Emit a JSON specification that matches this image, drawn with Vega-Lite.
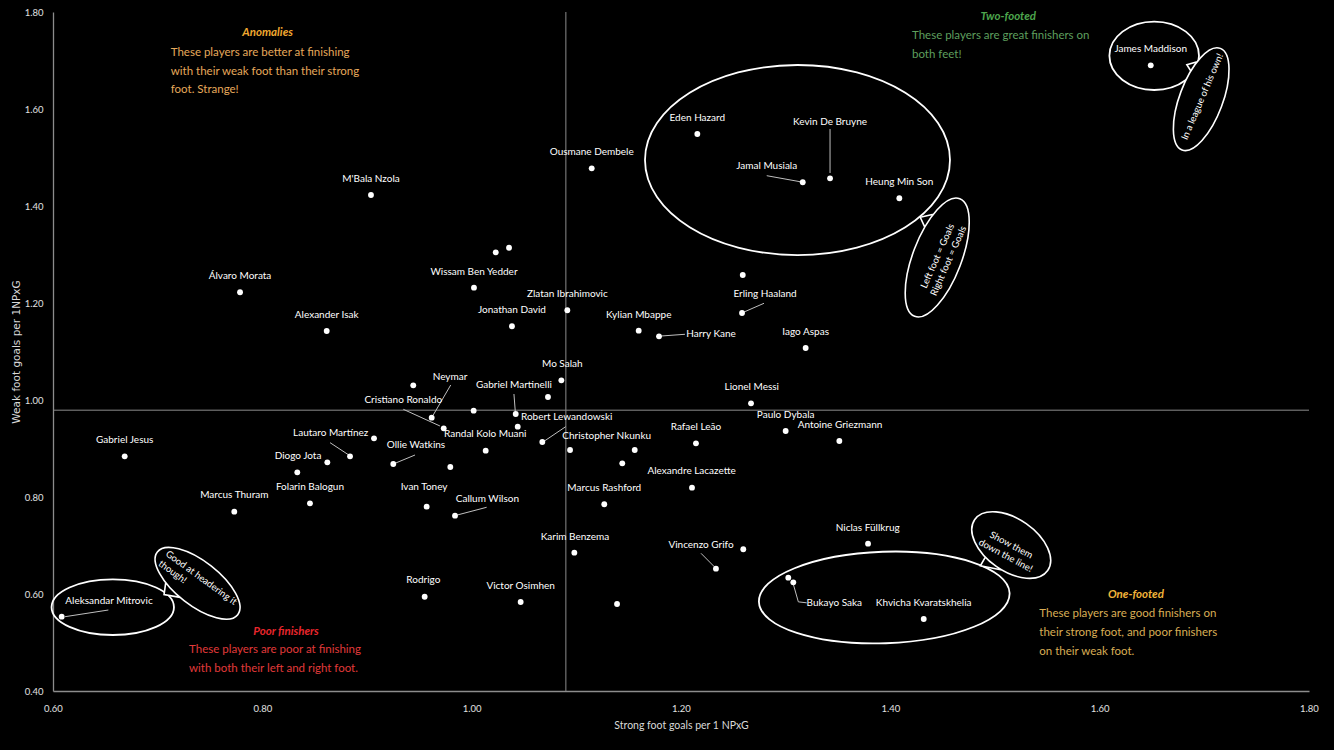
{
  "$schema": "https://vega.github.io/schema/vega-lite/v6.json",
  "width": 1256,
  "height": 679,
  "autosize": {"type": "none"},
  "padding": {"left": 53, "top": 12, "right": 25, "bottom": 59},
  "background": "#000000",
  "config": {"view": {"stroke": null}},
  "datasets": {
    "points": [
      {"player": "M'Bala Nzola", "x": 0.9038, "y": 1.4227},
      {"player": "Ousmane Dembele", "x": 1.1147, "y": 1.4777},
      {"player": "Eden Hazard", "x": 1.2156, "y": 1.5485},
      {"player": "Kevin De Bruyne", "x": 1.3424, "y": 1.4571},
      {"player": "Jamal Musiala", "x": 1.3163, "y": 1.4489},
      {"player": "Heung Min Son", "x": 1.4086, "y": 1.4159},
      {"player": "James Maddison", "x": 1.6488, "y": 1.6901},
      {"player": "", "x": 1.023, "y": 1.3045},
      {"player": "", "x": 1.0357, "y": 1.314},
      {"player": "Wissam Ben Yedder", "x": 1.0022, "y": 1.2316},
      {"player": "Álvaro Morata", "x": 0.7787, "y": 1.2221},
      {"player": "Zlatan Ibrahimovic", "x": 1.0914, "y": 1.185},
      {"player": "Jonathan David", "x": 1.0385, "y": 1.152},
      {"player": "Alexander Isak", "x": 0.8615, "y": 1.1423},
      {"player": "", "x": 1.259, "y": 1.2577},
      {"player": "Erling Haaland", "x": 1.2583, "y": 1.1794},
      {"player": "Kylian Mbappe", "x": 1.1596, "y": 1.1429},
      {"player": "Harry Kane", "x": 1.179, "y": 1.1313},
      {"player": "Iago Aspas", "x": 1.3191, "y": 1.1072},
      {"player": "Mo Salah", "x": 1.0857, "y": 1.0406},
      {"player": "", "x": 0.9442, "y": 1.0303},
      {"player": "", "x": 1.0729, "y": 1.0062},
      {"player": "", "x": 1.0019, "y": 0.978},
      {"player": "Neymar", "x": 0.9618, "y": 0.9635},
      {"player": "Cristiano Ronaldo", "x": 0.9733, "y": 0.9416},
      {"player": "Gabriel Martinelli", "x": 1.0421, "y": 0.9711},
      {"player": "Randal Kolo Muani", "x": 1.044, "y": 0.945},
      {"player": "Robert Lewandowski", "x": 1.0675, "y": 0.9134},
      {"player": "Christopher Nkunku", "x": 1.1558, "y": 0.8969},
      {"player": "", "x": 1.094, "y": 0.8969},
      {"player": "", "x": 1.0134, "y": 0.8955},
      {"player": "", "x": 0.9796, "y": 0.8619},
      {"player": "", "x": 1.1439, "y": 0.8695},
      {"player": "Rafael Leão", "x": 1.2143, "y": 0.9107},
      {"player": "Lionel Messi", "x": 1.2669, "y": 0.9932},
      {"player": "Paulo Dybala", "x": 1.3, "y": 0.9361},
      {"player": "Antoine Griezmann", "x": 1.3513, "y": 0.9155},
      {"player": "Alexandre Lacazette", "x": 1.2105, "y": 0.8192},
      {"player": "Marcus Rashford", "x": 1.1267, "y": 0.785},
      {"player": "Gabriel Jesus", "x": 0.6685, "y": 0.8839},
      {"player": "", "x": 0.9067, "y": 0.921},
      {"player": "Lautaro Martínez", "x": 0.8838, "y": 0.8839},
      {"player": "Diogo Jota", "x": 0.8334, "y": 0.8509},
      {"player": "", "x": 0.8621, "y": 0.8715},
      {"player": "Ollie Watkins", "x": 0.9251, "y": 0.868},
      {"player": "Folarin Balogun", "x": 0.8455, "y": 0.787},
      {"player": "Marcus Thuram", "x": 0.7732, "y": 0.7697},
      {"player": "Ivan Toney", "x": 0.957, "y": 0.78},
      {"player": "Callum Wilson", "x": 0.9841, "y": 0.7615},
      {"player": "Karim Benzema", "x": 1.0981, "y": 0.6852},
      {"player": "Vincenzo Grifo", "x": 1.2334, "y": 0.6522},
      {"player": "", "x": 1.2595, "y": 0.6922},
      {"player": "Niclas Füllkrug", "x": 1.3787, "y": 0.7037},
      {"player": "Victor Osimhen", "x": 1.0468, "y": 0.5835},
      {"player": "", "x": 1.1389, "y": 0.5794},
      {"player": "Rodrigo", "x": 0.9551, "y": 0.5944},
      {"player": "Bukayo Saka", "x": 1.3073, "y": 0.6241},
      {"player": "", "x": 1.3025, "y": 0.6336},
      {"player": "Khvicha Kvaratskhelia", "x": 1.4319, "y": 0.5485},
      {"player": "Aleksandar Mitrovic", "x": 0.6083, "y": 0.5532}
    ],
    "labels": [
      {"label": "M'Bala Nzola", "x": 0.9038, "y": 1.4557},
      {"label": "Ousmane Dembele", "x": 1.1147, "y": 1.5113},
      {"label": "Eden Hazard", "x": 1.2156, "y": 1.5821},
      {"label": "Kevin De Bruyne", "x": 1.3424, "y": 1.5726},
      {"label": "Jamal Musiala", "x": 1.2819, "y": 1.4831},
      {"label": "Heung Min Son", "x": 1.4086, "y": 1.4489},
      {"label": "James Maddison", "x": 1.6488, "y": 1.7237},
      {"label": "Wissam Ben Yedder", "x": 1.0022, "y": 1.2646},
      {"label": "Álvaro Morata", "x": 0.7787, "y": 1.2557},
      {"label": "Zlatan Ibrahimovic", "x": 1.0914, "y": 1.2186},
      {"label": "Jonathan David", "x": 1.0385, "y": 1.185},
      {"label": "Alexander Isak", "x": 0.8615, "y": 1.1759},
      {"label": "Erling Haaland", "x": 1.2803, "y": 1.2186},
      {"label": "Kylian Mbappe", "x": 1.1596, "y": 1.1759},
      {"label": "Harry Kane", "x": 1.2287, "y": 1.1355},
      {"label": "Iago Aspas", "x": 1.3191, "y": 1.1409},
      {"label": "Mo Salah", "x": 1.0866, "y": 1.0742},
      {"label": "Neymar", "x": 0.9793, "y": 1.048},
      {"label": "Cristiano Ronaldo", "x": 0.9347, "y": 1.0},
      {"label": "Gabriel Martinelli", "x": 1.0404, "y": 1.0309},
      {"label": "Randal Kolo Muani", "x": 1.013, "y": 0.9293},
      {"label": "Robert Lewandowski", "x": 1.0908, "y": 0.9656},
      {"label": "Christopher Nkunku", "x": 1.129, "y": 0.9258},
      {"label": "Rafael Leão", "x": 1.2143, "y": 0.945},
      {"label": "Lionel Messi", "x": 1.2676, "y": 1.0275},
      {"label": "Paulo Dybala", "x": 1.3, "y": 0.9697},
      {"label": "Antoine Griezmann", "x": 1.3519, "y": 0.9491},
      {"label": "Alexandre Lacazette", "x": 1.2102, "y": 0.8536},
      {"label": "Marcus Rashford", "x": 1.1267, "y": 0.8186},
      {"label": "Gabriel Jesus", "x": 0.6685, "y": 0.9175},
      {"label": "Lautaro Martínez", "x": 0.8653, "y": 0.9326},
      {"label": "Diogo Jota", "x": 0.8341, "y": 0.8845},
      {"label": "Ollie Watkins", "x": 0.9468, "y": 0.9072},
      {"label": "Folarin Balogun", "x": 0.8455, "y": 0.82},
      {"label": "Marcus Thuram", "x": 0.7732, "y": 0.8041},
      {"label": "Ivan Toney", "x": 0.9545, "y": 0.82},
      {"label": "Callum Wilson", "x": 1.015, "y": 0.7959},
      {"label": "Karim Benzema", "x": 1.0987, "y": 0.7182},
      {"label": "Vincenzo Grifo", "x": 1.2191, "y": 0.701},
      {"label": "Niclas Füllkrug", "x": 1.3784, "y": 0.7367},
      {"label": "Victor Osimhen", "x": 1.0468, "y": 0.6165},
      {"label": "Rodrigo", "x": 0.9538, "y": 0.6289},
      {"label": "Bukayo Saka", "x": 1.3465, "y": 0.5808},
      {"label": "Khvicha Kvaratskhelia", "x": 1.4319, "y": 0.5808},
      {"label": "Aleksandar Mitrovic", "x": 0.6535, "y": 0.5856}
    ],
    "leaders": [
      {"x": 1.3424, "y": 1.5588, "x2": 1.3424, "y2": 1.468},
      {"x": 1.2819, "y": 1.4625, "x2": 1.3137, "y2": 1.4501},
      {"x": 1.2793, "y": 1.1994, "x2": 1.2602, "y2": 1.1814},
      {"x": 1.2038, "y": 1.1355, "x2": 1.1815, "y2": 1.132},
      {"x": 0.98, "y": 1.0309, "x2": 0.9633, "y2": 0.9691},
      {"x": 0.9347, "y": 0.9808, "x2": 0.9697, "y2": 0.9464},
      {"x": 1.0404, "y": 1.0124, "x2": 1.0417, "y2": 0.9753},
      {"x": 1.0898, "y": 0.945, "x2": 1.0691, "y2": 0.9148},
      {"x": 0.8647, "y": 0.912, "x2": 0.8822, "y2": 0.8872},
      {"x": 0.9459, "y": 0.8866, "x2": 0.9268, "y2": 0.8695},
      {"x": 1.0143, "y": 0.7788, "x2": 0.9863, "y2": 0.7629},
      {"x": 1.2191, "y": 0.6839, "x2": 1.2318, "y2": 0.6563},
      {"x": 0.6529, "y": 0.567, "x2": 0.6115, "y2": 0.5532},
      {"x": 1.3073, "y": 0.6203, "x2": 1.3121, "y2": 0.5838},
      {"x": 1.3121, "y": 0.5838, "x2": 1.3201, "y2": 0.5818}
    ],
    "titles": [
      {"group": "Anomalies", "text": "Anomalies", "x": 0.805, "y": 1.7561},
      {"group": "Two-footed", "text": "Two-footed", "x": 1.5127, "y": 1.789},
      {"group": "Poor finishers", "text": "Poor finishers", "x": 0.8226, "y": 0.5223},
      {"group": "One-footed", "text": "One-footed", "x": 1.6347, "y": 0.5979}
    ],
    "bodies": [
      {"group": "Anomalies", "text": "These players are better at finishing", "x": 0.7125, "y": 1.7148},
      {"group": "Anomalies", "text": "with their weak foot than their strong", "x": 0.7125, "y": 1.6769},
      {"group": "Anomalies", "text": "foot. Strange!", "x": 0.7125, "y": 1.6392},
      {"group": "Two-footed", "text": "These players are great finishers on", "x": 1.4207, "y": 1.7505},
      {"group": "Two-footed", "text": "both feet!", "x": 1.4207, "y": 1.7113},
      {"group": "Poor finishers", "text": "These players are poor at finishing", "x": 0.73, "y": 0.4845},
      {"group": "Poor finishers", "text": "with both their left and right foot.", "x": 0.73, "y": 0.4447},
      {"group": "One-footed", "text": "These players are good finishers on", "x": 1.5423, "y": 0.5581},
      {"group": "One-footed", "text": "their strong foot, and poor finishers", "x": 1.5423, "y": 0.519},
      {"group": "One-footed", "text": "on their weak foot.", "x": 1.5423, "y": 0.4798}
    ]
  },
  "encoding": {
    "x": {
      "field": "x", "type": "quantitative",
      "scale": {"domain": [0.6, 1.8], "nice": false, "zero": false},
      "axis": {
        "values": [0.6, 0.8, 1.0, 1.2, 1.4, 1.6, 1.8], "format": ".2f",
        "grid": false, "ticks": false, "tickSize": 0, "labelFlush": false,
        "domainColor": "#8c8c8c", "domainWidth": 1.3,
        "labelColor": "#e0e0e0", "labelFont": "Lato", "labelFontSize": 9.5, "labelPadding": 12,
        "title": "Strong foot goals per 1 NPxG", "titleColor": "#d9d9d9", "titleFont": "Lato",
        "titleFontSize": 10.5, "titleFontWeight": "normal", "titlePadding": 8
      }
    },
    "y": {
      "field": "y", "type": "quantitative",
      "scale": {"domain": [0.4, 1.8], "nice": false, "zero": false},
      "axis": {
        "values": [0.4, 0.6, 0.8, 1.0, 1.2, 1.4, 1.6, 1.8], "format": ".2f",
        "grid": false, "ticks": false, "tickSize": 0, "labelFlush": false,
        "domainColor": "#8c8c8c", "domainWidth": 1.3,
        "labelColor": "#e0e0e0", "labelFont": "Lato", "labelFontSize": 9.5, "labelPadding": 10,
        "title": "Weak foot goals per 1NPxG", "titleColor": "#d9d9d9", "titleFont": "DejaVu Sans",
        "titleFontSize": 10.5, "titleFontWeight": "normal", "titlePadding": 3
      }
    }
  },
  "resolve": {"scale": {"color": "independent"}},
  "layer": [
    {
      "data": {"values": [{"x": 1.09, "y": 0.4, "y2": 1.8}]},
      "mark": {"type": "rule", "color": "#8c8c8c", "strokeWidth": 1},
      "encoding": {"y2": {"field": "y2"}}
    },
    {
      "data": {"values": [{"x": 0.6, "x2": 1.8, "y": 0.979}]},
      "mark": {"type": "rule", "color": "#8c8c8c", "strokeWidth": 1},
      "encoding": {"x2": {"field": "x2"}}
    },
    {
      "data": {"values": [{"x": 1.3113, "y": 1.4948}]},
      "mark": {"type": "point", "shape": "M1,0C1,0.344,0.552,0.623,0,0.623C-0.552,0.623,-1,0.344,-1,0C-1,-0.344,-0.552,-0.623,0,-0.623C0.552,-0.623,1,-0.344,1,0Z", "size": 93025, "filled": false, "color": "#ffffff", "strokeWidth": 1.8, "opacity": 1}
    },
    {
      "data": {"values": [{"x": 1.6521, "y": 1.7097}]},
      "mark": {"type": "point", "shape": "M1,0C1,0.421,0.552,0.763,0,0.763C-0.552,0.763,-1,0.421,-1,0C-1,-0.421,-0.552,-0.763,0,-0.763C0.552,-0.763,1,-0.421,1,0Z", "size": 8028, "filled": false, "color": "#ffffff", "strokeWidth": 1.8, "opacity": 1}
    },
    {
      "data": {"values": [{"x": 0.6571, "y": 0.5728}]},
      "mark": {"type": "point", "shape": "M1,0C1,0.251,0.552,0.454,0,0.454C-0.552,0.454,-1,0.251,-1,0C-1,-0.251,-0.552,-0.454,0,-0.454C0.552,-0.454,1,-0.251,1,0Z", "size": 14982, "filled": false, "color": "#ffffff", "strokeWidth": 1.8, "opacity": 1}
    },
    {
      "data": {"values": [{"x": 1.3942, "y": 0.5928}]},
      "mark": {"type": "point", "shape": "M1,0C1,0.202,0.552,0.365,0,0.365C-0.552,0.365,-1,0.202,-1,0C-1,-0.202,-0.552,-0.365,0,-0.365C0.552,-0.365,1,-0.202,1,0Z", "size": 62901, "angle": -2, "filled": false, "color": "#ffffff", "strokeWidth": 1.8, "opacity": 1}
    },
    {
      "data": {"values": [{"x": 1.697, "y": 1.6202}]},
      "mark": {"type": "point", "shape": "M1,0C1,0.22,0.552,0.398,0,0.398C-0.552,0.398,-1,0.22,-1,0C-1,-0.22,-0.552,-0.398,0,-0.398C0.552,-0.398,1,-0.22,1,0Z M0.42,-0.361L0.5,-0.47L0.62,-0.312", "size": 11794, "angle": -69.4, "filled": true, "fill": "#000000", "stroke": "#ffffff", "strokeWidth": 1.6, "opacity": 1}
    },
    {
      "data": {"values": [{"x": 1.4448, "y": 1.2938}]},
      "mark": {"type": "point", "shape": "M1,0C1,0.213,0.552,0.386,0,0.386C-0.552,0.386,-1,0.213,-1,0C-1,-0.213,-0.552,-0.386,0,-0.386C0.552,-0.386,1,-0.213,1,0Z M0.38,-0.357L0.5,-0.48L0.62,-0.303", "size": 15876, "angle": -69, "filled": true, "fill": "#000000", "stroke": "#ffffff", "strokeWidth": 1.6, "opacity": 1}
    },
    {
      "data": {"values": [{"x": 0.7381, "y": 0.6221}]},
      "mark": {"type": "point", "shape": "M1,0C1,0.238,0.552,0.431,0,0.431C-0.552,0.431,-1,0.238,-1,0C-1,-0.238,-0.552,-0.431,0,-0.431C0.552,-0.431,1,-0.238,1,0Z M-0.5,0.373L-0.38,0.58L-0.1,0.429", "size": 10404, "angle": 38, "filled": true, "fill": "#000000", "stroke": "#ffffff", "strokeWidth": 1.6, "opacity": 1}
    },
    {
      "data": {"values": [{"x": 1.5155, "y": 0.701}]},
      "mark": {"type": "point", "shape": "M1,0C1,0.324,0.552,0.587,0,0.587C-0.552,0.587,-1,0.324,-1,0C-1,-0.324,-0.552,-0.587,0,-0.587C0.552,-0.587,1,-0.324,1,0Z M-0.32,0.556L-0.3,0.78L0.15,0.58", "size": 7921, "angle": 35, "filled": true, "fill": "#000000", "stroke": "#ffffff", "strokeWidth": 1.6, "opacity": 1}
    },
    {
      "data": {"values": [{"x": 1.6981, "y": 1.6254, "text": "In a league of his own!"}]},
      "mark": {"type": "text", "font": "Lato", "fontSize": 9.5, "color": "#ffffff", "align": "center", "baseline": "middle", "angle": -67},
      "encoding": {"text": {"field": "text"}}
    },
    {
      "data": {"values": [{"x": 1.4451, "y": 1.2969, "text": "Left foot = Goals\nRight foot = Goals"}]},
      "mark": {"type": "text", "font": "Lato", "fontSize": 9.5, "color": "#ffffff", "align": "center", "baseline": "middle", "angle": -66, "lineBreak": "\n", "lineHeight": 12},
      "encoding": {"text": {"field": "text"}}
    },
    {
      "data": {"values": [{"x": 0.7114, "y": 0.6934, "text": "Good at headering it\nthough!"}]},
      "mark": {"type": "text", "font": "Lato", "fontSize": 9.5, "color": "#ffffff", "align": "left", "baseline": "top", "angle": 36, "lineBreak": "\n", "lineHeight": 12},
      "encoding": {"text": {"field": "text"}}
    },
    {
      "data": {"values": [{"x": 1.5155, "y": 0.701, "text": "Show them\ndown the line!"}]},
      "mark": {"type": "text", "font": "Lato", "fontSize": 9.5, "color": "#ffffff", "align": "center", "baseline": "middle", "angle": 28, "lineBreak": "\n", "lineHeight": 12},
      "encoding": {"text": {"field": "text"}}
    },
    {
      "data": {"name": "leaders"},
      "mark": {"type": "rule", "color": "#bfbfbf", "strokeWidth": 1},
      "encoding": {"x2": {"field": "x2"}, "y2": {"field": "y2"}}
    },
    {
      "data": {"name": "points"},
      "mark": {"type": "circle", "size": 34, "color": "#ffffff", "opacity": 1},
      "encoding": {"tooltip": {"field": "player"}}
    },
    {
      "data": {"name": "labels"},
      "mark": {"type": "text", "font": "Lato", "fontSize": 10, "color": "#ffffff", "align": "center", "baseline": "middle"},
      "encoding": {"text": {"field": "label"}}
    },
    {
      "data": {"name": "titles"},
      "mark": {"type": "text", "font": "Lato", "fontSize": 11.5, "fontWeight": "bold", "fontStyle": "italic", "align": "center", "baseline": "middle"},
      "encoding": {
        "text": {"field": "text"},
        "color": {"field": "group", "type": "nominal", "legend": null,
          "scale": {"domain": ["Anomalies", "Two-footed", "Poor finishers", "One-footed"], "range": ["#F0A830", "#4DA64D", "#E8262C", "#F2B43A"]}}
      }
    },
    {
      "data": {"name": "bodies"},
      "mark": {"type": "text", "font": "Lato", "fontSize": 11.5, "align": "left", "baseline": "middle"},
      "encoding": {
        "text": {"field": "text"},
        "color": {"field": "group", "type": "nominal", "legend": null,
          "scale": {"domain": ["Anomalies", "Two-footed", "Poor finishers", "One-footed"], "range": ["#E6A95B", "#5E9F5E", "#E03A3A", "#D9AE55"]}}
      }
    }
  ]
}
